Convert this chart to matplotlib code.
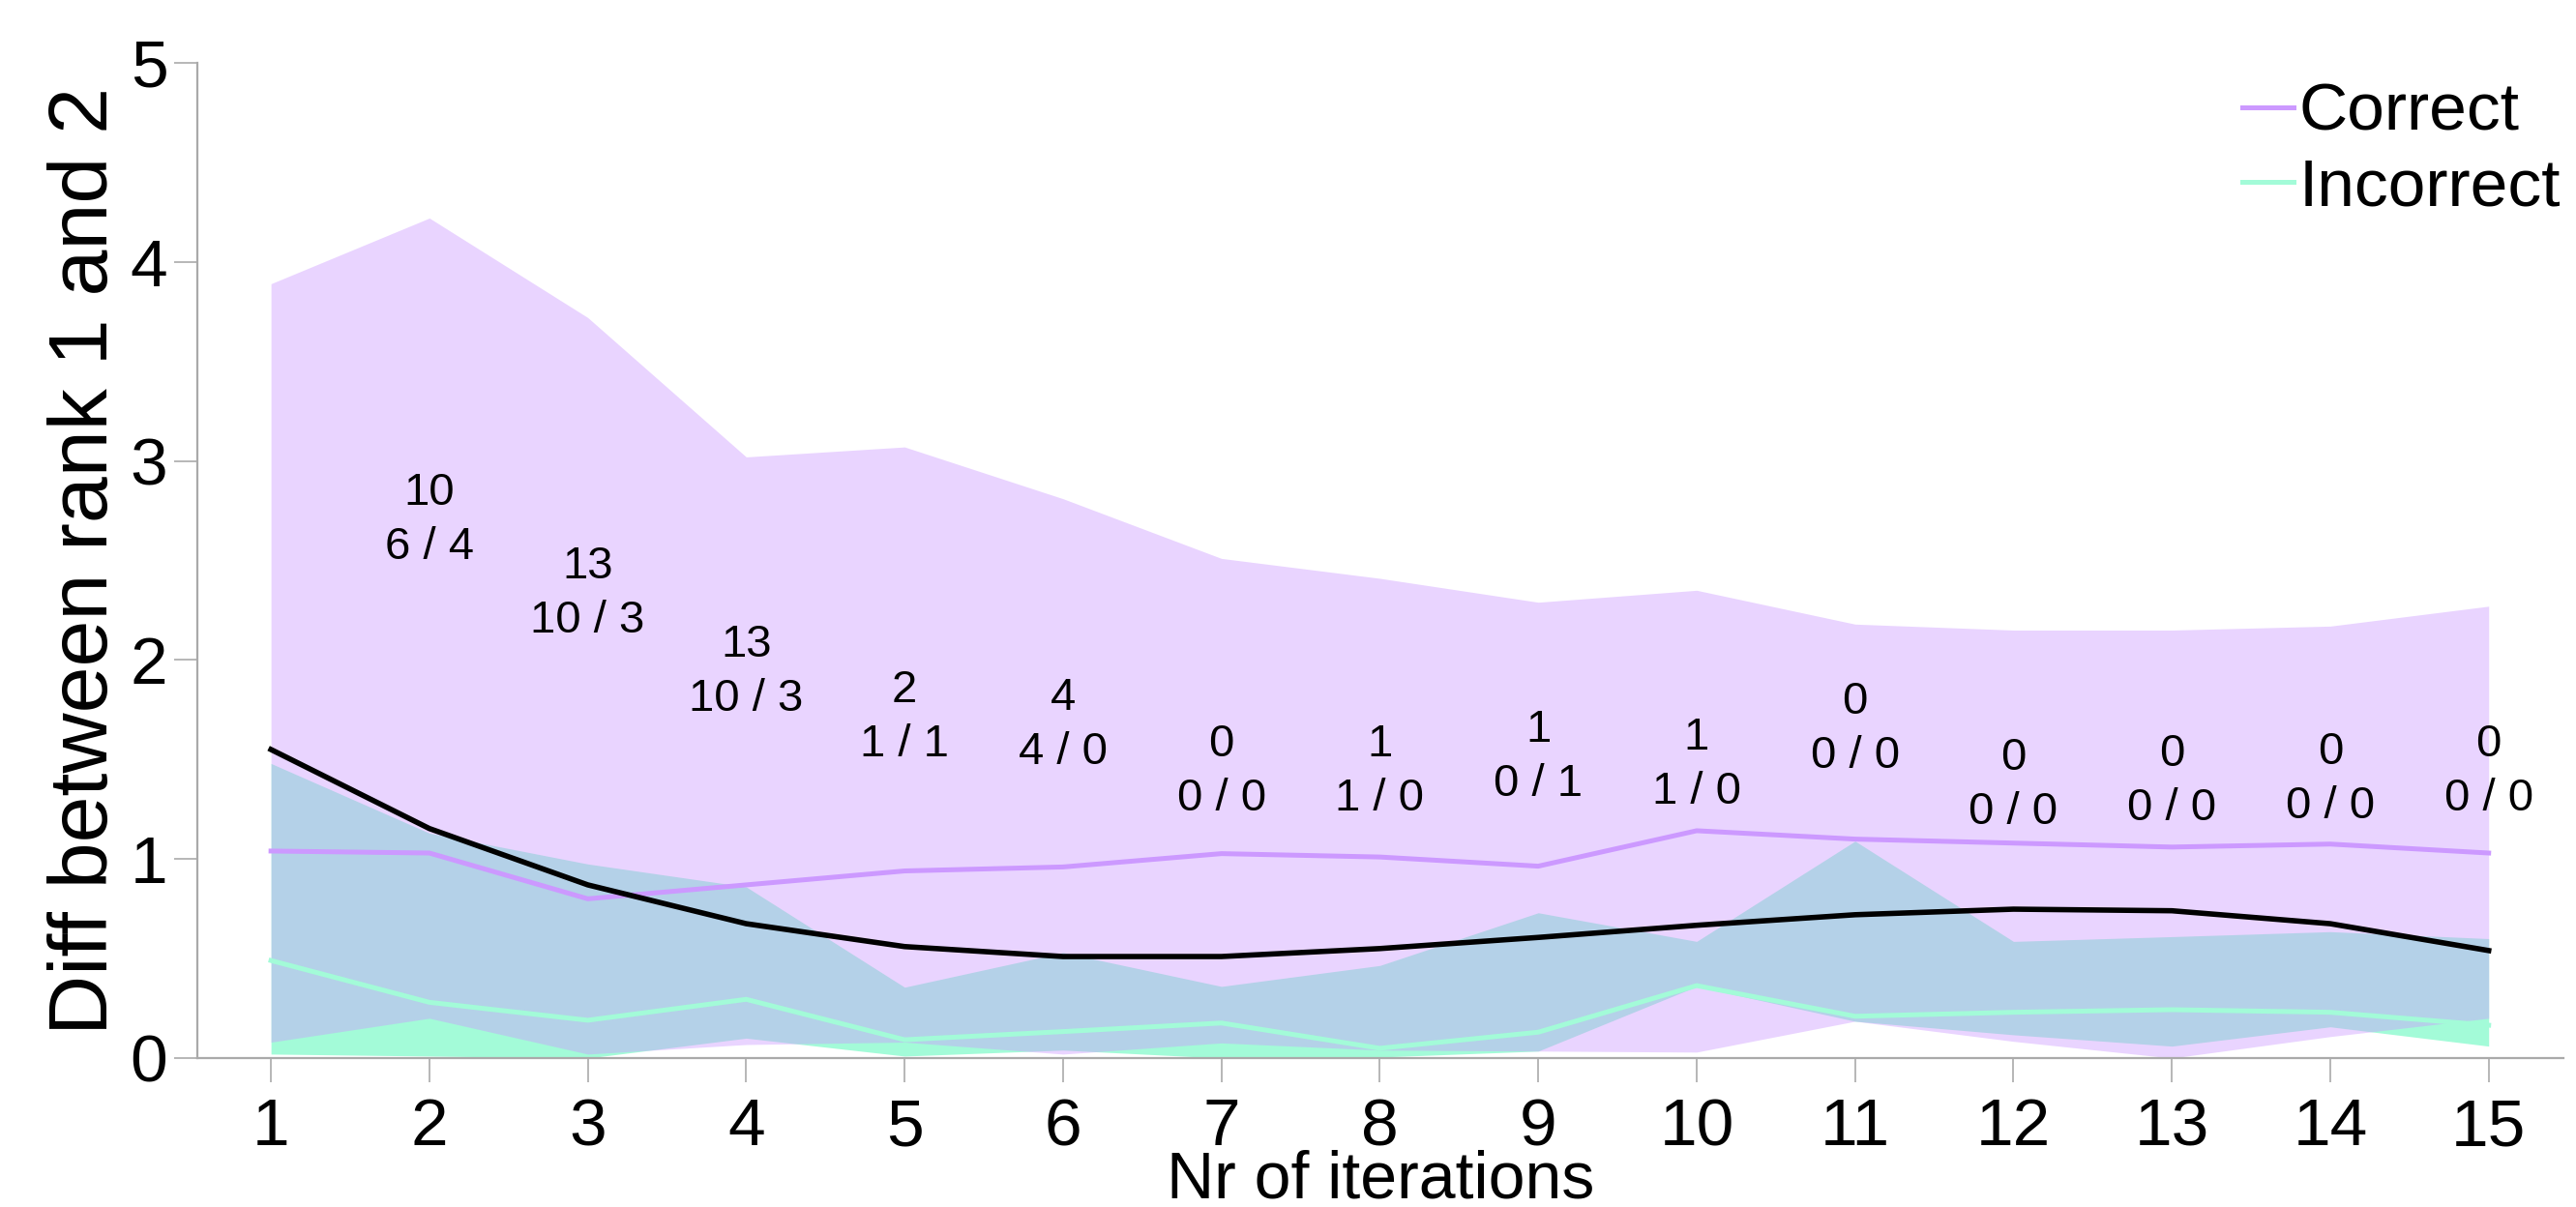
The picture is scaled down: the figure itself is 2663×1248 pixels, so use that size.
import matplotlib
matplotlib.use("Agg")
import matplotlib.pyplot as plt
import numpy as np

plt.rcParams['font.family'] = ['Liberation Sans', 'DejaVu Sans']

# data
iters = [1, 2, 3, 4, 5, 6, 7, 8, 9, 10, 11, 12, 13, 14, 15]
correct_hi = [3.89, 4.22, 3.72, 3.02, 3.07, 2.81, 2.51, 2.41, 2.29, 2.35, 2.18, 2.15, 2.15, 2.17, 2.27]
correct_lo = [0.08, 0.20, 0.02, 0.068, 0.08, 0.02, 0.076, 0.04, 0.035, 0.03, 0.185, 0.084, 0.0, 0.108, 0.20]
correct_mid = [1.04, 1.03, 0.80, 0.87, 0.94, 0.96, 1.027, 1.01, 0.964, 1.142, 1.10, 1.08, 1.06, 1.075, 1.03]
incorrect_hi = [1.48, 1.13, 0.975, 0.86, 0.356, 0.53, 0.36, 0.465, 0.73, 0.586, 1.09, 0.586, 0.61, 0.635, 0.60]
incorrect_lo = [0.02, 0.01, 0.0, 0.10, 0.01, 0.04, 0.0, 0.005, 0.035, 0.36, 0.185, 0.117, 0.06, 0.157, 0.06]
incorrect_mid = [0.49, 0.28, 0.19, 0.295, 0.092, 0.133, 0.176, 0.049, 0.13, 0.364, 0.21, 0.23, 0.243, 0.23, 0.165]
overall = [1.55, 1.153, 0.87, 0.675, 0.56, 0.51, 0.51, 0.55, 0.606, 0.667, 0.72, 0.748, 0.74, 0.675, 0.54]

# counts shown above each iteration (total, correct / incorrect)
label_x = [2, 3, 4, 5, 6, 7, 8, 9, 10, 11, 12, 13, 14, 15]
label_y = [2.70, 2.33, 1.94, 1.71, 1.67, 1.44, 1.44, 1.51, 1.47, 1.65, 1.37, 1.39, 1.40, 1.44]
totals = [10, 13, 13, 2, 4, 0, 1, 1, 1, 0, 0, 0, 0, 0]
splits = ["6 / 4", "10 / 3", "10 / 3", "1 / 1", "4 / 0", "0 / 0", "1 / 0",
          "0 / 1", "1 / 0", "0 / 0", "0 / 0", "0 / 0", "0 / 0", "0 / 0"]

purple = "#CC99FF"
mint = "#A3FBD8"
grey = "#AAAAAA"

fig = plt.figure(figsize=(26.63, 12.48), dpi=100)
ax = fig.add_axes([0.0766, 0.1234, 0.9184, 0.8246])

ax.fill_between(iters, incorrect_lo, incorrect_hi, color=mint, linewidth=0)
ax.fill_between(iters, correct_lo, correct_hi, color=purple, alpha=0.42, linewidth=0)

ax.plot(iters, correct_mid, color=purple, lw=3.6, label="Correct")
ax.plot(iters, incorrect_mid, color=mint, lw=3.6, label="Incorrect")
ax.plot(iters, overall, color="black", lw=4)

for x, y, t, s in zip(label_x, label_y, totals, splits):
    ax.text(x, y, f"{t}\n{s}", ha="center", va="center", fontsize=34, linespacing=1.35)

ax.set_xlim(0.535, 15.47)
ax.set_ylim(0, 5)
ax.set_xticks(iters)
ax.set_yticks([0, 1, 2, 3, 4, 5])

for side in ["top", "right"]:
    ax.spines[side].set_visible(False)
for side in ["left", "bottom"]:
    ax.spines[side].set_color(grey)
    ax.spines[side].set_linewidth(1.6)

ax.tick_params(axis="x", length=18, width=1.2, color=grey, pad=11, labelsize=50)
ax.tick_params(axis="y", length=17, width=1.2, color=grey, pad=5, labelsize=50)

ax.set_xlabel("Nr of iterations", fontsize=49, labelpad=-7)
ax.set_ylabel("Diff between rank 1 and 2", fontsize=62, labelpad=4)

ax.legend(loc="upper right", bbox_to_anchor=(0.994, 0.932), bbox_transform=fig.transFigure,
          frameon=False, fontsize=50, handlelength=0.76, handletextpad=0.08,
          labelspacing=0.2, borderpad=0, borderaxespad=0)

fig.savefig("out.png", dpi=100)
